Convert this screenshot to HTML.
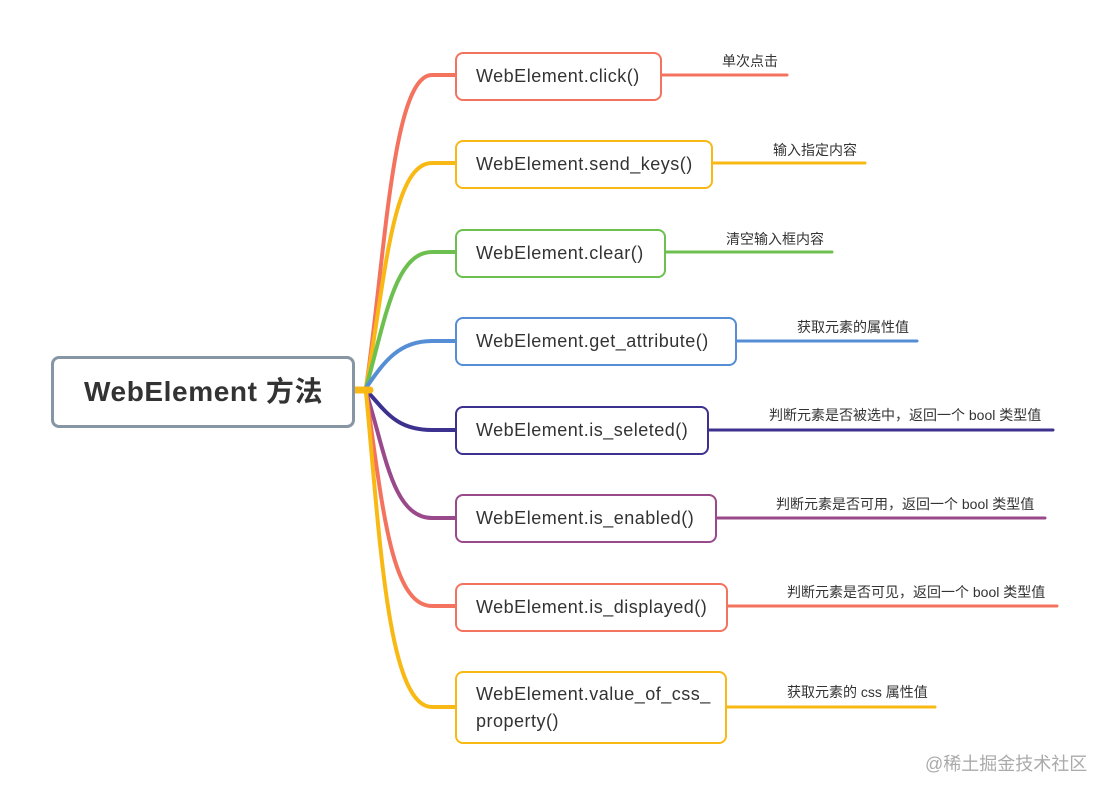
<!DOCTYPE html>
<html><head><meta charset="utf-8"><style>
body{margin:0;background:#fff;width:1108px;height:794px;overflow:hidden;position:relative;font-family:"Liberation Sans","Noto Sans CJK SC",sans-serif;}
.b{position:absolute;box-sizing:border-box;border:2.5px solid;border-radius:8px;background:#fff;color:#333;font-size:18px;padding-left:19px;display:flex;align-items:center;letter-spacing:0.5px}
.l{position:absolute;font-size:14px;color:#333;white-space:nowrap}
</style></head><body>
<svg width="1108" height="794" style="position:absolute;left:0;top:0" fill="none" stroke-linecap="round">
<g stroke-width="4">
<path d="M366 388 C 385 260, 392 75, 432 75 L456 75" stroke="#f4735f"/>
<path d="M366 388 C 385 280, 392 163, 432 163 L456 163" stroke="#f9b914"/>
<path d="M366 388 C 385 320, 395 252, 432 252 L456 252" stroke="#6dc04f"/>
<path d="M366 388 C 385 360, 400 341, 432 341 L456 341" stroke="#558ed5"/>
<path d="M366 390 C 385 410, 395 430, 432 430 L456 430" stroke="#3d318f"/>
<path d="M366 392 C 385 450, 392 518, 432 518 L456 518" stroke="#9a4a8a"/>
<path d="M366 392 C 382 500, 390 606, 432 606 L456 606" stroke="#f4735f"/>
<path d="M366 392 C 380 540, 388 707, 432 707 L456 707" stroke="#f9b914"/>
</g>
<path d="M354 390 L370 390" stroke="#f9b914" stroke-width="7"/>
<g stroke-width="3">
<path d="M661 75 H787" stroke="#f4735f"/>
<path d="M712 163 H865" stroke="#f9b914"/>
<path d="M665 252 H832" stroke="#6dc04f"/>
<path d="M736 341 H917" stroke="#558ed5"/>
<path d="M708 430 H1053" stroke="#3d318f"/>
<path d="M716 518 H1045" stroke="#9a4a8a"/>
<path d="M727 606 H1057" stroke="#f4735f"/>
<path d="M726 707 H935" stroke="#f9b914"/>
</g>
</svg>
<div class="b" style="left:51px;top:356px;width:304px;height:72px;border-color:#8696a4;border-width:3px;font-size:28px;font-weight:bold;padding-left:30px;padding-bottom:4px;letter-spacing:0.6px;color:#333">WebElement 方法</div>
<div class="b" style="left:455px;top:52px;width:207px;height:49px;border-color:#f4735f">WebElement.click()</div>
<div class="b" style="left:455px;top:140px;width:258px;height:49px;border-color:#f9b914">WebElement.send_keys()</div>
<div class="b" style="left:455px;top:229px;width:211px;height:49px;border-color:#6dc04f">WebElement.clear()</div>
<div class="b" style="left:455px;top:317px;width:282px;height:49px;border-color:#558ed5">WebElement.get_attribute()</div>
<div class="b" style="left:455px;top:406px;width:254px;height:49px;border-color:#3d318f">WebElement.is_seleted()</div>
<div class="b" style="left:455px;top:494px;width:262px;height:49px;border-color:#9a4a8a">WebElement.is_enabled()</div>
<div class="b" style="left:455px;top:583px;width:273px;height:49px;border-color:#f4735f">WebElement.is_displayed()</div>
<div class="b" style="left:455px;top:671px;width:272px;height:73px;border-color:#f9b914;line-height:27px">WebElement.value_of_css_<br>property()</div>
<div class="l" style="left:722px;top:51px">单次点击</div>
<div class="l" style="left:773px;top:140px">输入指定内容</div>
<div class="l" style="left:726px;top:229px">清空输入框内容</div>
<div class="l" style="left:797px;top:317px">获取元素的属性值</div>
<div class="l" style="left:769px;top:405px">判断元素是否被选中，返回一个 bool 类型值</div>
<div class="l" style="left:776px;top:494px">判断元素是否可用，返回一个 bool 类型值</div>
<div class="l" style="left:787px;top:582px">判断元素是否可见，返回一个 bool 类型值</div>
<div class="l" style="left:787px;top:682px">获取元素的 css 属性值</div>
<div class="l" style="left:925px;top:750px;font-size:18px;color:#aaa">@稀土掘金技术社区</div>
</body></html>
